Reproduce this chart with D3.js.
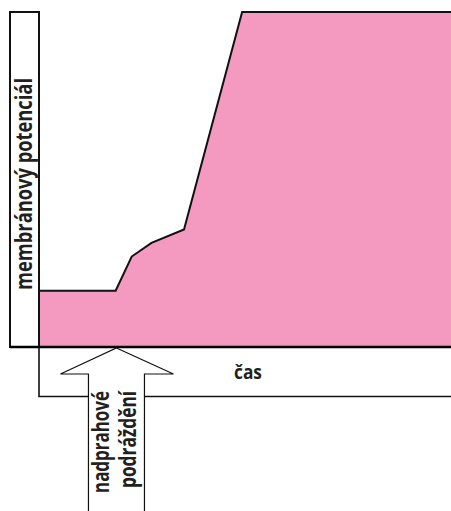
<!DOCTYPE html>
<html>
<head>
<meta charset="utf-8">
<script src="https://cdn.jsdelivr.net/npm/d3@7"></script>
<style>
  html, body { margin: 0; padding: 0; background: #fff; }
  svg { display: block; }
  text { font-family: "Open Sans", "Noto Sans", "DejaVu Sans", sans-serif; font-weight: bold; fill: #231f20; }
</style>
</head>
<body>
<script>
// ---- data ----
const times = [0, 18.6, 22.5, 27.3, 35.2, 49.3, 100];          // time (arbitrary units)
const potential = [16.8, 16.8, 27.0, 31.1, 35.1, 100, 100];     // membrane potential (arbitrary units)
const stimulusTime = [18.8];                                    // suprathreshold stimulus moment
const yLabel = ["membránový potenciál"];
const xLabel = ["čas"];
const stimulusLabel = ["nadprahové", "podráždění"];

const W = 451, H = 511;
const plotLeft = 39, plotRight = 451, plotTop = 12, plotBottom = 347;

const svg = d3.select("body").append("svg").attr("width", W).attr("height", H);

const x = d3.scaleLinear().domain([0, 100]).range([plotLeft, plotRight]);
const y = d3.scaleLinear().domain([0, 100]).range([plotBottom, plotTop]);

const data = times.map((t, i) => ({ t, v: potential[i] }));

// filled area
svg.append("path")
  .datum(data)
  .attr("fill", "#f49ac1")
  .attr("d", d3.area().x(d => x(d.t)).y0(y(0)).y1(d => y(d.v)));

// curve outline
svg.append("path")
  .datum(data)
  .attr("fill", "none")
  .attr("stroke", "#111")
  .attr("stroke-width", 2)
  .attr("stroke-linejoin", "miter")
  .attr("d", d3.line().x(d => x(d.t)).y(d => y(d.v)));

// y label box
svg.append("rect")
  .attr("x", 10).attr("y", plotTop).attr("width", plotLeft - 10).attr("height", plotBottom - plotTop)
  .attr("fill", "none").attr("stroke", "#111").attr("stroke-width", 2);

// x label box (left and bottom)
svg.append("path")
  .attr("d", `M${plotLeft},${plotBottom} V396.5 H${W}`)
  .attr("fill", "none").attr("stroke", "#111").attr("stroke-width", 1.6);

// time axis line
svg.append("line")
  .attr("x1", 10).attr("x2", W).attr("y1", plotBottom).attr("y2", plotBottom)
  .attr("stroke", "#000").attr("stroke-width", 2.5);

// stimulus arrow
const ax = x(stimulusTime[0]);
const arrow = [
  [ax, plotBottom + 1],
  [ax + 57, 374],
  [ax + 28, 374],
  [ax + 28, H + 5],
  [ax - 28, H + 5],
  [ax - 28, 374],
  [ax - 56, 374]
];
svg.append("path")
  .attr("d", "M" + arrow.map(p => p.join(",")).join("L") + "Z")
  .attr("fill", "#fff").attr("stroke", "#111").attr("stroke-width", 1.2);

function squeeze(sel, size, target) {
  sel.style("font-size", size + "px");
  const len = sel.node().getComputedTextLength();
  if (len > target) sel.attr("textLength", target).attr("lengthAdjust", "spacingAndGlyphs");
  return sel;
}

// y label
const yl = svg.append("text")
  .attr("text-anchor", "middle")
  .attr("transform", "translate(31.5,184) rotate(-90)")
  .text(yLabel[0]);
squeeze(yl, 23, 212);

// x label
const xl = svg.append("text")
  .attr("text-anchor", "middle")
  .attr("x", 248).attr("y", 379)
  .text(xLabel[0]);
squeeze(xl, 19, 28);

// stimulus labels
const s1 = svg.append("text")
  .attr("text-anchor", "end")
  .attr("transform", `translate(${ax - 7.5},391) rotate(-90)`)
  .text(stimulusLabel[0]);
squeeze(s1, 23, 102);
const s2 = svg.append("text")
  .attr("text-anchor", "end")
  .attr("transform", `translate(${ax + 19.5},391) rotate(-90)`)
  .text(stimulusLabel[1]);
squeeze(s2, 23, 97);
</script>
</body>
</html>
